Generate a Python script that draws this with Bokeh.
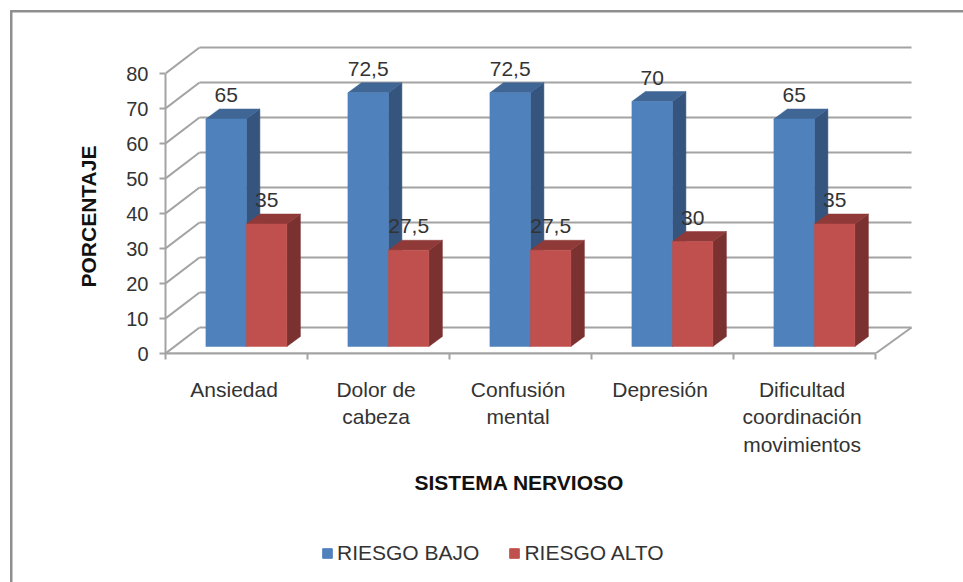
from bokeh.plotting import figure
from bokeh.layouts import column
from bokeh.models import Range1d, FixedTicker, Legend, LegendItem, LinearAxis, Title
from bokeh.core.properties import value
from bokeh.embed import file_html
from bokeh.resources import INLINE

categories = ["Ansiedad", "Dolor de\ncabeza", "Confusión\nmental", "Depresión",
              "Dificultad\ncoordinación\nmovimientos"]
riesgo_bajo = [65, 72.5, 72.5, 70, 65]
riesgo_alto = [35, 27.5, 27.5, 30, 35]
y_ticks = [0, 10, 20, 30, 40, 50, 60, 70, 80]
series_names = ["RIESGO BAJO", "RIESGO ALTO"]
x_title = "SISTEMA NERVIOSO"
y_title = "PORCENTAJE"

FONT = "Liberation Sans"
GRID = "#a3a3a3"
TXT = "#333333"
FS = "20px"
FS2 = "21px"
EDGE = "#8f8f8f"
BLUE, RED = "#4f81bd", "#c0504d"

# scale: 142 px per category, 3.5 px per percent
PX, PY = 142.0, 3.5
WALL_DX, WALL_DY = 34 / PX, 26 / PY
BASE = 7 / PY
BAR_DX, BAR_DY = 13.5 / PX, 10 / PY
BAR_W = 40.5 / PX
BAR_L = 40.4 / PX
N = len(categories)

WIDTH = 963
p = figure(width=WIDTH, height=530, output_backend="svg", toolbar_location=None,
           x_range=Range1d(0, 747 / PX), y_range=Range1d(0, 90),
           min_border_left=165, min_border_right=WIDTH - 912, min_border_top=38, min_border_bottom=177,
           x_axis_type=None, y_axis_type=None, outline_line_color=None,
           background_fill_color=None, border_fill_color=None)
p.xgrid.visible = False
p.ygrid.visible = False
# outer frame: only its top and left edges fall inside the page
p.styles = {"background": f"linear-gradient({EDGE},{EDGE}) 10px 10px/100% 2.5px no-repeat,"
                          f"linear-gradient({EDGE},{EDGE}) 10px 10px/2.5px 100% no-repeat"}

# walls
p.segment(x0=[WALL_DX] * len(y_ticks), y0=[t + WALL_DY for t in y_ticks],
          x1=[N + WALL_DX + 2 / PX] * len(y_ticks), y1=[t + WALL_DY for t in y_ticks],
          line_color=GRID, line_width=2)
p.segment(x0=[0] * len(y_ticks), y0=y_ticks,
          x1=[WALL_DX] * len(y_ticks), y1=[t + WALL_DY for t in y_ticks],
          line_color=GRID, line_width=2)
p.segment(x0=[0, N], y0=[0, 0], x1=[N, N + WALL_DX + 2 / PX], y1=[0, WALL_DY], line_color=GRID, line_width=2)


def bars(vals, offset, front, side, top):
    lefts = [i + BAR_L + offset for i in range(N)]
    rights = [l + BAR_W for l in lefts]
    tops = [v + BASE for v in vals]
    p.patches([[r, r + BAR_DX, r + BAR_DX, r] for r in rights],
              [[BASE, BASE + BAR_DY, t + BAR_DY, t] for t in tops],
              fill_color=side, line_color=side, line_width=0.5)
    p.patches([[l, l + BAR_DX, r + BAR_DX, r] for l, r in zip(lefts, rights)],
              [[t, t + BAR_DY, t + BAR_DY, t] for t in tops],
              fill_color=top, line_color=top, line_width=0.5)
    p.quad(left=lefts, right=rights, bottom=[BASE] * N, top=tops,
           fill_color=front, line_color=front, line_width=0.5)


bars(riesgo_bajo, 0, BLUE, "#35557f", "#3f6694")
bars(riesgo_alto, BAR_W, RED, "#7b3130", "#8f3a38")

for vals, off in ((riesgo_bajo, 0), (riesgo_alto, BAR_W)):
    p.text(x=[i + BAR_L + off + BAR_W / 2 for i in range(N)], y=[v + BASE for v in vals],
           text=[f"{v:g}".replace(".", ",") for v in vals],
           text_font=value(FONT), text_font_size=value(FS2), text_color=TXT,
           text_align="center", text_baseline="middle", y_offset=-24)

# axes
yaxis = LinearAxis(ticker=FixedTicker(ticks=y_ticks), bounds=(0, 80))
yaxis.axis_line_color = GRID
yaxis.axis_line_width = 2
yaxis.major_tick_line_color = GRID
yaxis.major_tick_line_width = 2
yaxis.major_tick_in = 0
yaxis.major_tick_out = 6
yaxis.minor_tick_line_color = None
yaxis.major_label_standoff = 11
yaxis.major_label_text_font = FONT
yaxis.major_label_text_font_size = FS
yaxis.major_label_text_color = TXT
p.add_layout(yaxis, "left")

label_pos = [i + 0.483 for i in range(N)]
xaxis = LinearAxis(ticker=FixedTicker(ticks=label_pos, minor_ticks=list(range(N + 1))), bounds=(0, N))
xaxis.axis_line_color = GRID
xaxis.axis_line_width = 2
xaxis.major_tick_line_color = None
xaxis.minor_tick_line_color = GRID
xaxis.minor_tick_line_width = 2
xaxis.minor_tick_in = 0
xaxis.minor_tick_out = 6
xaxis.major_label_standoff = 18
xaxis.major_label_text_font = FONT
xaxis.major_label_text_font_size = FS2
xaxis.major_label_text_color = TXT
xaxis.major_label_overrides = dict(zip(label_pos, categories))
p.add_layout(xaxis, "below")

p.add_layout(Title(text=x_title, align="left", offset=249, standoff=20, text_font=FONT,
                   text_font_size=FS2, text_font_style="bold", text_color="#111111"), "below")
p.add_layout(Title(text=y_title, align="left", offset=66, standoff=47, text_font=FONT,
                   text_font_size=FS2, text_font_style="bold", text_color="#111111"), "left")

# legend strip below the chart (its frame is aligned with the chart's frame)
q = figure(width=WIDTH, height=52, output_backend="svg", toolbar_location=None,
           x_range=Range1d(0, 1), y_range=Range1d(0, 1), min_border=0,
           x_axis_type=None, y_axis_type=None, outline_line_color=None,
           background_fill_color=None, border_fill_color=None)
q.xgrid.visible = False
q.ygrid.visible = False
q.styles = {"background": f"linear-gradient({EDGE},{EDGE}) 10px 0/2.5px 100% no-repeat"}
sw1 = q.quad(left=[-2], right=[-1], bottom=[0], top=[1], fill_color=BLUE, line_color=BLUE)
sw2 = q.quad(left=[-2], right=[-1], bottom=[0], top=[1], fill_color=RED, line_color=RED)
legend = Legend(items=[LegendItem(label=series_names[0], renderers=[sw1]),
                       LegendItem(label=series_names[1], renderers=[sw2])],
                orientation="horizontal", location=(156, 17), margin=0, padding=0,
                border_line_color=None, background_fill_color=None,
                glyph_width=12, glyph_height=12, label_standoff=4, spacing=29,
                label_text_font=FONT, label_text_font_size=FS2, label_text_color=TXT)
q.add_layout(legend)

page = column(p, q, spacing=0)
open("out.html", "w").write(file_html(page, INLINE))
